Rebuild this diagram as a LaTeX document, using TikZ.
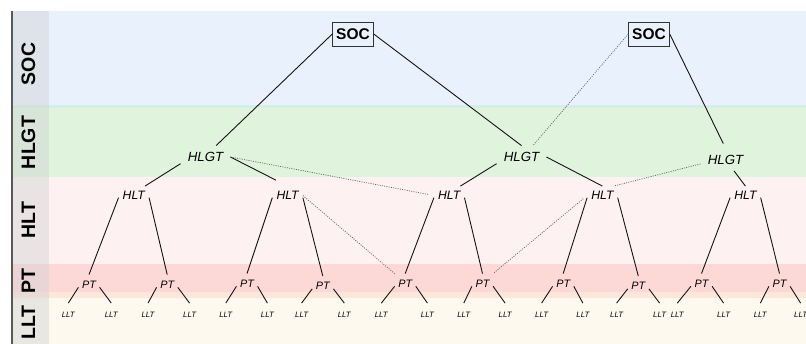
\documentclass[tikz,border=0pt]{standalone}
\usepackage{fontspec}
\setmainfont{Liberation Sans}
\definecolor{socband}{HTML}{E9F2FC}
\definecolor{seamband}{HTML}{D5EEE6}
\definecolor{hlgtband}{HTML}{E0F3DD}
\definecolor{hltband}{HTML}{FDF2F1}
\definecolor{ptband}{HTML}{FCD9D6}
\definecolor{peachband}{HTML}{FDE6DA}
\definecolor{lltband}{HTML}{FDF9EE}
\definecolor{labelcol}{HTML}{D2D2D4}
\begin{document}
\begin{tikzpicture}[x=1pt,y=-1pt,
  conn/.style={draw=black!92, line width=0.9pt},
  weak/.style={draw=black!60, line width=0.75pt, dash pattern=on 1pt off 1.3pt},
  socbox/.style={draw=black!80, line width=0.8pt, font=\bfseries\fontsize{15.5}{15.5}\selectfont,
    minimum width=40.6pt, minimum height=24pt, inner sep=0pt},
  hlgtnode/.style={font=\itshape\fontsize{13.3}{13.3}\selectfont, inner xsep=7pt, inner ysep=6.5pt},
  hltnode/.style={font=\itshape\fontsize{12.2}{12.2}\selectfont, inner xsep=4pt, inner ysep=5pt},
  ptnode/.style={font=\itshape\fontsize{10.8}{10.8}\selectfont, inner xsep=3.5pt, inner ysep=6pt},
  lltnode/.style={font=\itshape\fontsize{7.8}{7.8}\selectfont, inner xsep=1pt, inner ysep=8.5pt},
  bandlabel/.style={font=\bfseries\fontsize{19.5}{19.5}\selectfont, rotate=90, inner sep=0pt},
]
\useasboundingbox (0,0) rectangle (806,344);
\clip (0,0) rectangle (806,344);
\fill[white] (0,0) rectangle (806,344);

% level bands
\fill[socband]   (12,11)    rectangle (806,105);
\fill[seamband]  (12,105)   rectangle (806,108.5);
\fill[hlgtband]  (12,108.5) rectangle (806,177);
\fill[hltband]   (12,177)   rectangle (806,264.5);
\fill[ptband]    (12,264.5) rectangle (806,292);
\fill[peachband] (12,292)   rectangle (806,298.5);
\fill[lltband]   (12,298.5) rectangle (806,344);

% label column
\fill[labelcol, fill opacity=0.45] (12,11) rectangle (49,344);
\draw[black!65, line width=1.2pt] (12,11) -- (12,344);

\node[bandlabel] (labSOC)  at (28.5,64)    {SOC};
\node[bandlabel] (labHLGT) at (28.5,142.5) {HLGT};
\node[bandlabel] (labHLT)  at (28.5,220)   {HLT};
\node[bandlabel] (labPT)   at (28.5,281.5) {PT};
\node[bandlabel] (labLLT)  at (28.5,322.5) {LLT};

% SOC level
\node[socbox] (soc1) at (353,34) {SOC};
\node[socbox] (soc2) at (649,34) {SOC};

% HLGT level
\node[hlgtnode] (hlgt1) at (205.5,157)   {HLGT};
\node[hlgtnode] (hlgt2) at (521.5,157)   {HLGT};
\node[hlgtnode] (hlgt3) at (725.5,159.5) {HLGT};

% HLT level
\node[hltnode] (hlt1) at (133.8,195.5) {HLT};
\node[hltnode] (hlt2) at (287.6,195.5) {HLT};
\node[hltnode] (hlt3) at (449.2,195.5) {HLT};
\node[hltnode] (hlt4) at (602.4,195.5) {HLT};
\node[hltnode] (hlt5) at (745.4,195.5) {HLT};

% PT level
\foreach \n/\x/\y in {1/89/284.5, 2/167.2/284.5, 3/247/283.5, 4/322.8/286, 5/405.2/283.5,
                      6/482.5/283.5, 7/563.2/283.5, 8/638.3/286, 9/701.5/283.5, 10/779.5/283.5}
  \node[ptnode] (pt\n) at (\x,\y) {PT};

% LLT level
\foreach \n/\x in {1/68.3, 2/111.3, 3/148, 4/189.6, 5/225.8, 6/267.4, 7/301.6, 8/344.3, 9/381.3, 10/427.4,
                   11/463.8, 12/505.1, 13/541.6, 14/582.9, 15/616.6, 16/659.6, 17/677.3, 18/723.6, 19/760.3, 20/800.6}
  \node[lltnode] (llt\n) at (\x,314.5) {LLT};

% SOC -> HLGT
\draw[conn] (soc1.west) -- (hlgt1.47);
\draw[conn] (soc1.east) -- (hlgt2.north);
\draw[weak] (soc2.west) -- (hlgt2.45);
\draw[conn, shorten >=5pt] (soc2.east) -- (hlgt3.north);

% HLGT -> HLT
\draw[conn] (hlgt1.195) -- (hlt1.40);
\draw[conn, shorten >=13pt] (hlgt1.east) -- (hlt2.north);
\draw[weak, shorten >=5pt] (hlgt1.east) -- (hlt3.west);
\draw[conn] (hlgt2.195) -- (hlt3.40);
\draw[conn] (hlgt2.east) -- (hlt4.north);
\draw[conn] (hlgt3) -- (hlt5.north);
\draw[weak] (hlgt3.190) -- (hlt4.40);

% HLT -> PT
\foreach \h/\a/\b in {1/1/2, 2/3/4, 3/5/6, 4/7/8, 5/9/10} {
  \draw[conn] (hlt\h.188) -- (pt\a.north);
  \draw[conn] (hlt\h.-8) -- (pt\b.north);
}
\draw[weak] (hlt2.east) -- (pt5.north west);
\draw[weak, shorten <=5pt] (hlt4.west) -- (pt6.north east);

% PT -> LLT
\foreach \p [evaluate=\p as \l using int(2*\p-1), evaluate=\p as \r using int(2*\p)] in {1,...,10} {
  \draw[conn] (pt\p.195) -- (llt\l.north);
  \draw[conn] (pt\p.-15) -- (llt\r.north);
}
\end{tikzpicture}
\end{document}
